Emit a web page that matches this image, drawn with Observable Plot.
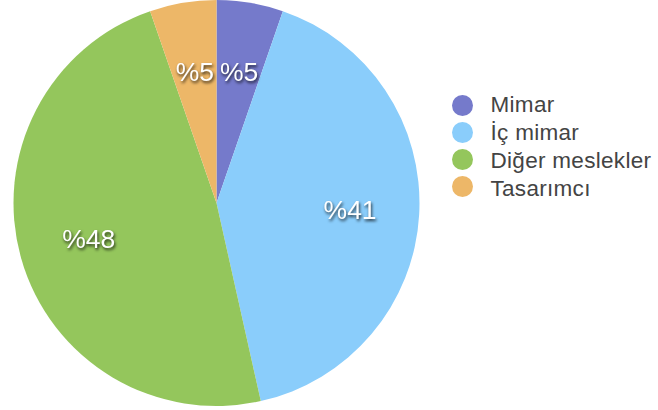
<!DOCTYPE html>
<html>
<head>
<meta charset="utf-8">
<script src="https://cdn.jsdelivr.net/npm/d3@7"></script>
<script src="https://cdn.jsdelivr.net/npm/@observablehq/plot@0.6"></script>
<style>
  html, body { margin: 0; padding: 0; background: #fff; overflow: hidden; }
  #wrap { position: relative; width: 658px; height: 410px; font-family: "Liberation Sans", Arial, sans-serif; }
  #wrap > div, #wrap > svg { position: absolute; }
  .pie-labels text { filter: drop-shadow(1px 2px 1.5px rgba(0,0,0,0.75)); }
  .leg-text text { letter-spacing: 0.3px; }
</style>
</head>
<body>
<div id="wrap"></div>
<script>
const categories = ["Mimar", "İç mimar", "Diğer meslekler", "Tasarımcı"];
const values = [5.3, 41.2, 48.2, 5.3];
const labels = ["%5", "%41", "%48", "%5"];
const colors = ["#757acb", "#8acdfb", "#94c65c", "#edb768"];

const data = categories.map((c, i) => ({category: c, value: values[i], label: labels[i]}));
const arcs = d3.pie().sort(null).value(d => d.value)(data);
const labelR = 0.655;
const labelData = arcs.map(a => {
  const m = (a.startAngle + a.endAngle) / 2;
  return {label: a.data.label, x: labelR * Math.sin(m), y: labelR * Math.cos(m)};
});

const color = {domain: categories, range: colors};

function pieMark(index, scales) {
  const {x, y} = scales;
  const cx = x(0), cy = y(0);
  const r = Math.min(Math.abs(x(1) - x(0)), Math.abs(y(1) - y(0)));
  const arc = d3.arc().innerRadius(0).outerRadius(r);
  const g = d3.create("svg:g").attr("transform", `translate(${cx},${cy})`);
  g.selectAll("path").data(arcs).join("path")
    .attr("d", arc)
    .attr("fill", d => scales.color ? scales.color(d.data.category) : colors[d.index]);
  return g.node();
}

const pie = Plot.plot({
  width: 658,
  height: 410,
  margin: 0,
  x: {domain: [-1, 1], range: [13, 420], axis: null},
  y: {domain: [-1, 1], range: [406, 0], axis: null},
  color,
  marks: [
    pieMark,
    Plot.text(labelData, {
      x: "x", y: "y", text: "label",
      fill: "white", fontSize: 26.5,
      fontFamily: "Liberation Sans, Arial, sans-serif"
    })
  ]
});
pie.style.left = "0px"; pie.style.top = "0px";
pie.querySelectorAll("g[aria-label='text']").forEach(g => g.classList.add("pie-labels"));
document.getElementById("wrap").appendChild(pie);

const legDots = Plot.plot({
  width: 44, height: 120, margin: 0,
  x: {axis: null},
  y: {type: "point", domain: categories, range: [24, 107], padding: 0, axis: null},
  color,
  marks: [
    Plot.dot(categories, {y: d => d, fill: d => d, r: 10.5, frameAnchor: "middle"})
  ]
});
legDots.style.left = "440px"; legDots.style.top = "80px";
document.getElementById("wrap").appendChild(legDots);

const legText = Plot.plot({
  width: 168, height: 120, margin: 0,
  y: {type: "point", domain: categories, range: [23.7, 109.2], padding: 0, axis: null},
  marks: [
    Plot.text(categories, {y: d => d, text: d => d, frameAnchor: "left", textAnchor: "start",
      fontSize: 22.5, fill: "#444", fontFamily: "Liberation Sans, Arial, sans-serif"})
  ]
});
legText.querySelectorAll("g[aria-label='text']").forEach(g => g.classList.add("leg-text"));
legText.style.left = "490px"; legText.style.top = "80px";
document.getElementById("wrap").appendChild(legText);
</script>
</body>
</html>
